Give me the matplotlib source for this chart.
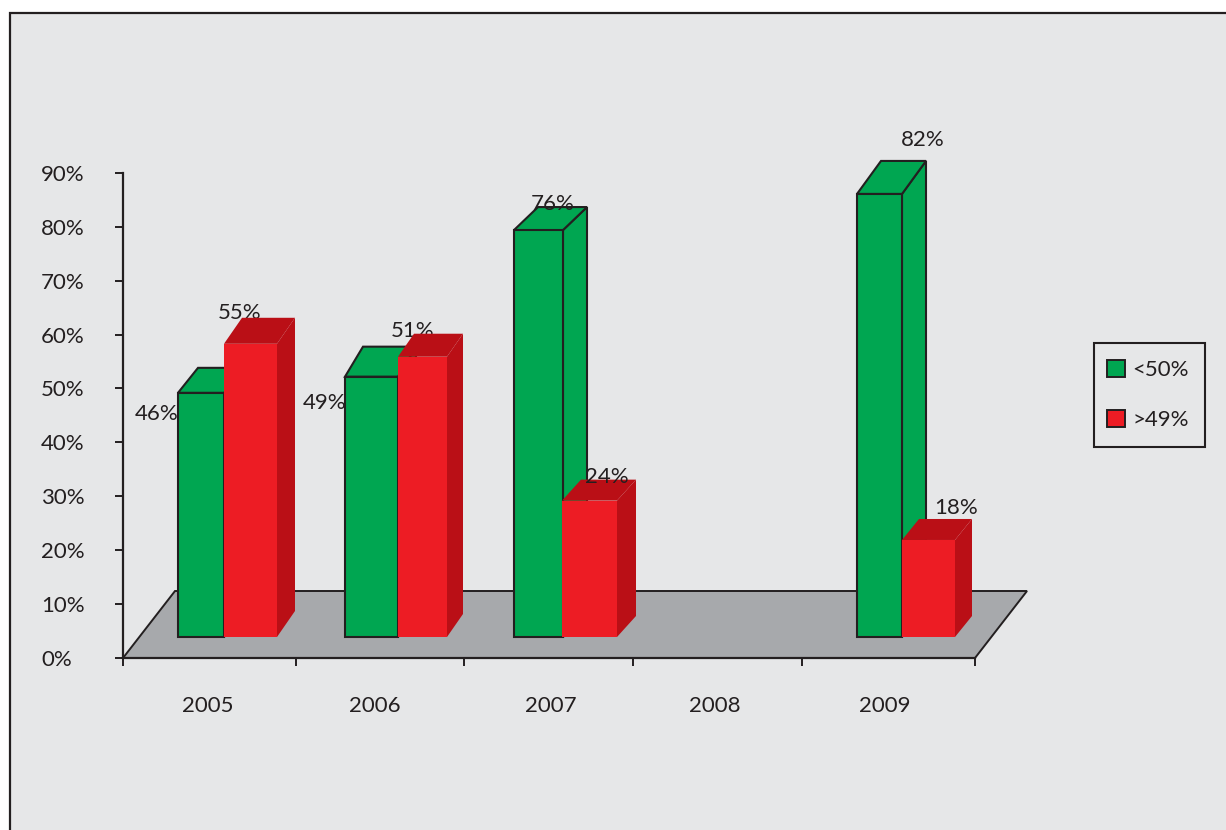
import numpy as np
import matplotlib
matplotlib.use('Agg')
import matplotlib.pyplot as plt
from matplotlib.patches import Polygon, Patch, Rectangle

plt.rcParams['font.family'] = ['Lato', 'DejaVu Sans']

years = ['2005', '2006', '2007', '2008', '2009']
series_names = ['<50%', '>49%']
y_ticks = [0, 10, 20, 30, 40, 50, 60, 70, 80, 90]

# bar heights as drawn, in percent (the printed labels differ a little)
green_heights = [45.3, 48.3, 75.5, np.nan, 82.2]
red_heights = [54.4, 52.0, 25.3, np.nan, 18.0]
green_labels = ['46%', '49%', '76%', '', '82%']
red_labels = ['55%', '51%', '24%', '', '18%']

# layout, all of this in pixels of the 1226x830 picture
W, H = 1226, 830
X0, Y0 = 123, 658          # origin of the axes
PX_CAT = 170.4             # pixels per category
PX_PCT = 5.39              # pixels per percent
BASE = 21 / PX_PCT         # bars stand on the floor, above the axis line

green_left = [178, 345, 514, 0, 857]
green_width = [46, 53, 49, 0, 45]
green_depth = [(20, 25), (18, 30), (24, 23), (0, 0), (24, 33)]
red_left = [224, 398, 562, 0, 902]
red_width = [53, 49, 55, 0, 53]
red_depth = [(18, 26), (16, 23), (19, 21), (0, 0), (17, 21)]

green_offs = [(-44, -21), (-47, -26), (14, 26), (0, 0), (43, 54)]
red_offs = [(-11, 31), (-10, 26), (17, 24), (0, 0), (28, 32)]
green_z = [20, 20, 20, 20, 20]
red_z = [2, 2, 20, 20, 2]

tick_px = [123, 296, 464, 633, 802, 975]
label_px = [208, 375, 551, 715, 885]

GREEN = '#00A651'
RED = '#ED1C24'
DARK_RED = '#BA0F16'
INK = '#231F20'
FS = 16


def xd(px):
    return (px - X0) / PX_CAT


fig = plt.figure(figsize=(W / 100, H / 100), dpi=100, facecolor='white')

# grey panel, runs off the right and bottom of the page
fig.add_artist(Rectangle((10 / W, -0.1), 1.2, 1.1 - 13 / H, transform=fig.transFigure,
                         facecolor='#E6E7E8', edgecolor=INK, linewidth=1.6, zorder=-1))

ax = fig.add_axes([0, 0, 1, 1])
ax.patch.set_visible(False)
ax.set_xlim(xd(0), xd(W))
ax.set_ylim((Y0 - H) / PX_PCT, Y0 / PX_PCT)

for s in ['top', 'right']:
    ax.spines[s].set_visible(False)
for s in ['left', 'bottom']:
    ax.spines[s].set_position(('data', 0))
    ax.spines[s].set_linewidth(1.6)
    ax.spines[s].set_color(INK)
    ax.spines[s].set_zorder(3)
ax.spines['left'].set_bounds(0, 90)
ax.spines['bottom'].set_bounds(0, 5)

ax.set_yticks(y_ticks)
ax.set_yticklabels(['{}%'.format(v) for v in y_ticks], ha='left')
ax.tick_params(axis='y', length=5.5, width=1.4, color=INK, labelcolor=INK,
               labelsize=FS, pad=53.5)
ax.set_xticks([xd(p) for p in tick_px])
ax.set_xticklabels([])
ax.tick_params(axis='x', which='major', length=6, width=1.4, color=INK)
ax.set_xticks([xd(p) for p in label_px], minor=True)
ax.set_xticklabels(years, minor=True)
ax.tick_params(axis='x', which='minor', length=0, labelcolor=INK, labelsize=FS, pad=27.5)

# floor
floor = [(xd(123), 0), (xd(975), 0), (xd(1027), 67 / PX_PCT), (xd(175), 67 / PX_PCT)]
ax.add_patch(Polygon(floor, closed=True, facecolor='#A7A9AC', edgecolor=INK,
                     linewidth=1.4, zorder=1))


def bar3d(left, width, height, depth, front, shade, edge, lw, z):
    x0, x1 = xd(left), xd(left + width)
    top = BASE + height
    ddx, ddy = depth[0] / PX_CAT, depth[1] / PX_PCT
    side = [(x1, BASE), (x1 + ddx, BASE + ddy), (x1 + ddx, top + ddy), (x1, top)]
    lid = [(x0, top), (x1, top), (x1 + ddx, top + ddy), (x0 + ddx, top + ddy)]
    ax.add_patch(Polygon(side, closed=True, facecolor=shade, edgecolor=edge, linewidth=lw, zorder=z))
    ax.add_patch(Polygon(lid, closed=True, facecolor=shade, edgecolor=edge, linewidth=lw, zorder=z))
    ax.bar(x0, height, width=x1 - x0, bottom=BASE, align='edge', color=front,
           edgecolor=edge, linewidth=lw, zorder=z + 0.1)


for i in range(len(years)):
    if np.isnan(green_heights[i]):
        continue

    bar3d(green_left[i], green_width[i], green_heights[i], green_depth[i],
          GREEN, GREEN, INK, 1.5, 5)
    bar3d(red_left[i], red_width[i], red_heights[i], red_depth[i],
          RED, DARK_RED, 'none', 0, 6)

    ax.annotate(green_labels[i], (xd(green_left[i] + green_width[i] / 2), BASE + green_heights[i]),
                xytext=green_offs[i], textcoords='offset pixels', ha='center', va='center',
                color=INK, fontsize=FS, zorder=green_z[i])
    ax.annotate(red_labels[i], (xd(red_left[i] + red_width[i] / 2), BASE + red_heights[i]),
                xytext=red_offs[i], textcoords='offset pixels', ha='center', va='center',
                color=INK, fontsize=FS, zorder=red_z[i])

# legend box drawn apart so its size can be set on its own
fig.add_artist(Rectangle((1094 / W, 1 - 447 / H), 111 / W, 104 / H, transform=fig.transFigure,
                         facecolor='none', edgecolor=INK, linewidth=1.5))
handles = [Patch(facecolor=GREEN, edgecolor=INK, linewidth=1.4),
           Patch(facecolor=RED, edgecolor=INK, linewidth=1.4)]
ax.legend(handles, series_names, loc='upper left',
          bbox_to_anchor=(1090 / W, 1 - 343 / H), bbox_transform=fig.transFigure,
          borderaxespad=0, fontsize=FS, frameon=False,
          handlelength=0.82, handleheight=0.82, handletextpad=0.35,
          labelspacing=1.35, borderpad=0.75, labelcolor=INK)

fig.savefig('out.png', dpi=100)
